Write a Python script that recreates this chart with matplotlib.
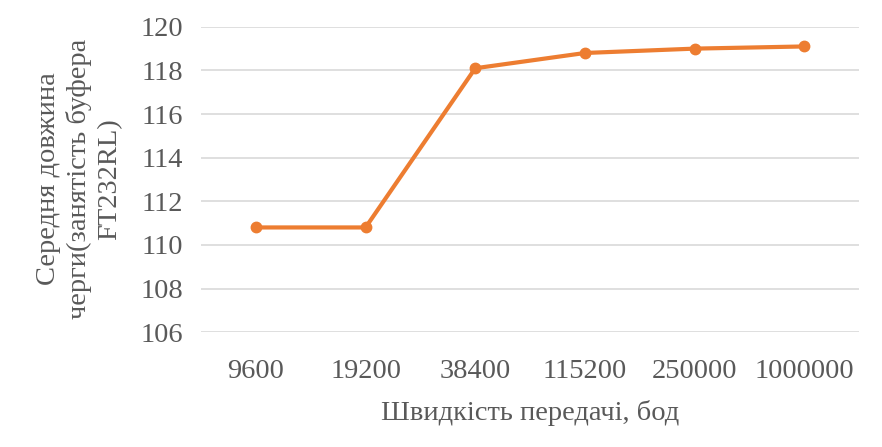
import matplotlib
matplotlib.use("Agg")
import matplotlib.pyplot as plt

# швидкість передачі, бод
speeds = ["9600", "19200", "38400", "115200", "250000", "1000000"]
# середня довжина черги
queue_len = [110.8, 110.8, 118.1, 118.8, 119.0, 119.1]
y_ticks = [106, 108, 110, 112, 114, 116, 118, 120]

plt.rcParams['font.family'] = ['Liberation Serif', 'DejaVu Serif']
grey = "#595959"
fs = 20.5

fig = plt.figure(figsize=(8.82, 4.47), dpi=100)
ax = fig.add_axes([0.228, 0.257, 0.746, 0.683])

x = list(range(len(speeds)))
ax.plot(x, queue_len, color="#ED7D31", linewidth=3, marker="o",
        markersize=7.5, zorder=3)

ax.set_xlim(-0.5, len(speeds) - 0.5)
ax.set_ylim(106, 120)
ax.set_yticks(y_ticks)
ax.set_xticks(x)
ax.set_xticklabels(speeds)
ax.grid(axis="y", color="#D9D9D9", linewidth=1.2)
ax.set_axisbelow(True)
for s in ax.spines.values():
    s.set_visible(False)
ax.tick_params(axis="both", length=0, labelsize=fs, labelcolor=grey)
ax.tick_params(axis="x", pad=19)
ax.tick_params(axis="y", pad=13)

ax.set_xlabel("Швидкість передачі, бод", fontsize=fs, color=grey, labelpad=12)
# підпис осі Y у три рядки, як в Excel
fig.text(0.0896, 0.6, "Середня довжина\nчерги(занятість буфера\nFT232RL)",
         fontsize=fs, color=grey, rotation=90, ha="center", va="center",
         linespacing=1.25, multialignment="center")

fig.savefig("out.png", dpi=100)
